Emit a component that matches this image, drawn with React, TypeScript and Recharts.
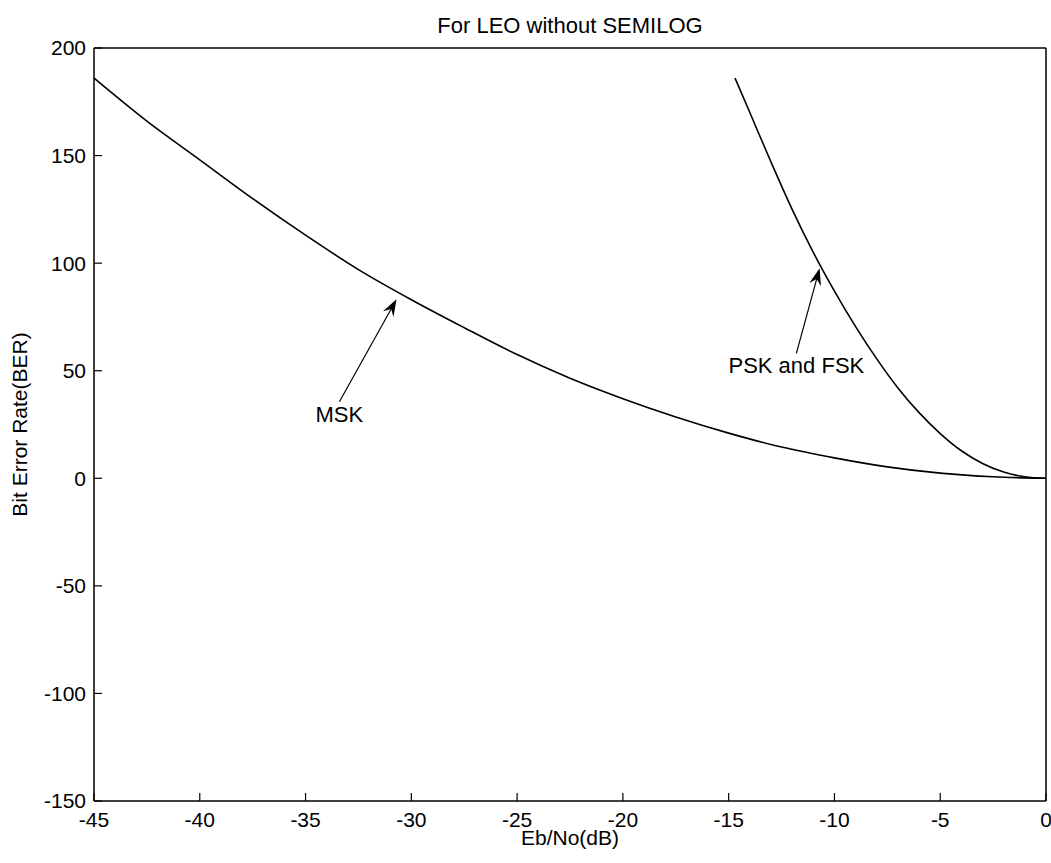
import { LineChart, Line, XAxis, YAxis, ReferenceLine } from 'recharts';

const FONT = '"Liberation Sans", Arial, Helvetica, sans-serif';

// axis ticks
const xTicks = [-45, -40, -35, -30, -25, -20, -15, -10, -5, 0];
const yTicks = [-150, -100, -50, 0, 50, 100, 150, 200];

// MSK curve
const mskEbNo = [-45, -42.5, -40, -37.5, -35, -32.5, -30, -27.5, -25, -22.5, -20, -17.5, -15, -12.5, -10, -7.5, -5, -2.5, 0];
const mskBer = [186, 166, 148, 130, 113, 97, 83, 70, 57.5, 46.5, 37, 28.5, 21, 14.5, 9.5, 5.3, 2.4, 0.7, 0];

// PSK and FSK curve
const pskEbNo = [-14.7, -14, -13, -12, -11, -10, -9, -8, -7, -6, -5, -4, -3, -2, -1, 0];
const pskBer = [186, 170, 147, 125, 105, 87, 70.5, 55.5, 42, 30.5, 20.8, 12.8, 6.9, 2.9, 0.7, 0];

// annotation arrows (tail -> tip), in data units
const mskArrow = [{ x: -33.4, y: 35.6 }, { x: -30.7, y: 83.2 }];
const pskArrow = [{ x: -11.8, y: 58.1 }, { x: -10.7, y: 97.6 }];

const mskData = mskEbNo.map((x, i) => ({ x, ber: mskBer[i] }));
const pskData = pskEbNo.map((x, i) => ({ x, ber: pskBer[i] }));

const TICK_LEN = 8;

function BottomTick(props: any) {
  const { x, y, payload } = props;
  return (
    <g>
      <line x1={x} x2={x} y1={y - 11} y2={y - 11 - TICK_LEN} stroke="#000" strokeWidth={1.2} />
      <text x={x} y={y} dy="0.71em" textAnchor="middle" fontSize={21} fontFamily={FONT} fill="#000">
        {payload.value}
      </text>
    </g>
  );
}

function LeftTick(props: any) {
  const { x, y, payload } = props;
  return (
    <g>
      <line x1={x + 8} x2={x + 8 + TICK_LEN} y1={y} y2={y} stroke="#000" strokeWidth={1.2} />
      <text x={x} y={y} dy="0.355em" textAnchor="end" fontSize={21} fontFamily={FONT} fill="#000">
        {payload.value}
      </text>
    </g>
  );
}

function TopTick(props: any) {
  const { x, y } = props;
  return <line x1={x} x2={x} y1={y} y2={y + TICK_LEN} stroke="#000" strokeWidth={1.2} />;
}

function RightTick(props: any) {
  const { x, y } = props;
  return <line x1={x} x2={x - TICK_LEN} y1={y} y2={y} stroke="#000" strokeWidth={1.2} />;
}

function arrowShape(label: string) {
  return (props: any) => {
    const { x1, y1, x2, y2 } = props;
    const ang = Math.atan2(y2 - y1, x2 - x1);
    const c = Math.cos(ang);
    const s = Math.sin(ang);
    const len = 17;
    const half = 6;
    const bx = x2 - len * c;
    const by = y2 - len * s;
    const nx = x2 - len * 0.65 * c;
    const ny = y2 - len * 0.65 * s;
    const pts = [
      [x2, y2],
      [bx - s * half, by + c * half],
      [nx, ny],
      [bx + s * half, by - c * half],
    ]
      .map((p) => p.join(','))
      .join(' ');
    return (
      <g>
        <line x1={x1} y1={y1} x2={nx} y2={ny} stroke="#000" strokeWidth={1.2} />
        <polygon points={pts} fill="#000" />
        <text x={x1} y={y1 + 20} textAnchor="middle" fontSize={22} fontFamily={FONT} fill="#000">
          {label}
        </text>
      </g>
    );
  };
}

function TitleLabel(props: any) {
  const { x, y, width, height } = props.viewBox;
  return (
    <text x={x + width / 2} y={y + height - 15} textAnchor="middle" fontSize={22} fontFamily={FONT} fill="#000">
      For LEO without SEMILOG
    </text>
  );
}

function XLabel(props: any) {
  const { x, y, width } = props.viewBox;
  return (
    <text x={x + width / 2} y={y + 44} textAnchor="middle" fontSize={21} fontFamily={FONT} fill="#000">
      Eb/No(dB)
    </text>
  );
}

function YLabel(props: any) {
  const { x, y, height } = props.viewBox;
  const cx = x + 19;
  const cy = y + height / 2;
  return (
    <text
      x={cx}
      y={cy}
      transform={`rotate(-90 ${cx} ${cy})`}
      textAnchor="middle"
      dominantBaseline="central"
      fontSize={21}
      fontFamily={FONT}
      fill="#000"
    >
      Bit Error Rate(BER)
    </text>
  );
}

export default function App() {
  return (
    <div style={{ position: 'absolute', left: 0, top: 0, background: '#fff' }}>
      <LineChart width={1051} height={860} margin={{ top: 47, right: 4, left: 0, bottom: 37 }}>
        <XAxis
          dataKey="x"
          type="number"
          domain={[-45, 0]}
          ticks={xTicks}
          interval={0}
          height={22}
          tickSize={0}
          tickMargin={11}
          tickLine={false}
          tick={BottomTick}
          axisLine={{ stroke: '#000', strokeWidth: 1.5 }}
          label={XLabel}
        />
        <XAxis
          xAxisId="top"
          orientation="top"
          dataKey="x"
          type="number"
          domain={[-45, 0]}
          ticks={xTicks}
          interval={0}
          height={1}
          tickSize={0}
          tickMargin={0}
          tickLine={false}
          tick={TopTick}
          axisLine={{ stroke: '#000', strokeWidth: 1.5 }}
          label={TitleLabel}
        />
        <YAxis
          type="number"
          domain={[-150, 200]}
          ticks={yTicks}
          interval={0}
          width={94}
          tickSize={0}
          tickMargin={8}
          tickLine={false}
          tick={LeftTick}
          axisLine={{ stroke: '#000', strokeWidth: 1.5 }}
          label={YLabel}
        />
        <YAxis
          yAxisId="right"
          orientation="right"
          type="number"
          domain={[-150, 200]}
          ticks={yTicks}
          interval={0}
          width={1}
          tickSize={0}
          tickMargin={0}
          tickLine={false}
          tick={RightTick}
          axisLine={{ stroke: '#000', strokeWidth: 1.5 }}
        />
        <Line
          data={mskData}
          dataKey="ber"
          type="monotone"
          stroke="#000"
          strokeWidth={1.6}
          dot={false}
          isAnimationActive={false}
        />
        <Line
          data={pskData}
          dataKey="ber"
          type="monotone"
          stroke="#000"
          strokeWidth={1.6}
          dot={false}
          isAnimationActive={false}
        />
        <ReferenceLine segment={mskArrow} shape={arrowShape('MSK')} />
        <ReferenceLine segment={pskArrow} shape={arrowShape('PSK and FSK')} />
      </LineChart>
    </div>
  );
}
